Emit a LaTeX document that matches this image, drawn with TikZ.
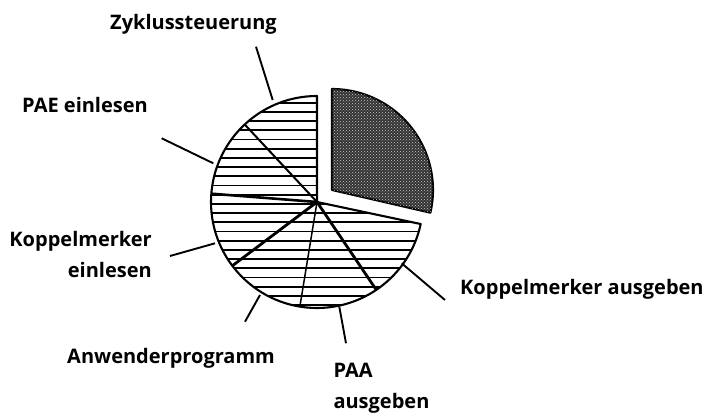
\documentclass[tikz,border=0pt]{standalone}
\usepackage{fontspec}
\setmainfont{Open Sans}
\usetikzlibrary{patterns}
\begin{document}
\begin{tikzpicture}[x=1pt,y=1pt,
  lbl/.style={font=\bfseries\fontsize{20}{31}\selectfont, inner sep=0pt},
  leader/.style={line width=1.9pt},
  rim/.style={line width=2.1pt, line join=round},
  hatch/.style={line width=1.8pt}]
\useasboundingbox (0,0) rectangle (710,414);
\coordinate (C) at (317,212);
\coordinate (E) at (332,224);
% exploded slice
\draw[rim, fill=black!80, postaction={pattern=crosshatch dots, pattern color=white!80!black}]
  (E) -- ++(90:101pt) arc[start angle=90,end angle=-13,radius=101pt] -- cycle;
% hatching of main pie
\begin{scope}
\clip (C) -- ++(90:106pt) arc[start angle=90,end angle=348,radius=106pt] -- cycle;
\foreach \k in {0,...,24} \draw[hatch] (200,{311.3-9.2*\k}) -- (440,{311.3-9.2*\k});
\end{scope}
% slice borders
\foreach \a/\w in {133/2.0,175.5/2.6,217/2.8,260.7/1.5,304/2.8}
  \draw[line width=\w pt] (C) -- ++(\a:106pt);
\draw[rim] (C) -- ++(90:106pt) arc[start angle=90,end angle=348,radius=106pt] -- cycle;
% labels
\node[lbl, anchor=base] (zyk) at (193.5,384.7) {Zyklussteuerung};
\node[lbl, anchor=base west] (pae) at (22,301.5) {PAE einlesen};
\node[lbl, anchor=base east] (ke1) at (152,167.3) {Koppelmerker};
\node[lbl, anchor=base east] (ke2) at (152,136) {einlesen};
\node[lbl, anchor=base west] (anw) at (67,50.7) {Anwenderprogramm};
\node[lbl, anchor=base west] (paa1) at (333.3,36.7) {PAA};
\node[lbl, anchor=base west] (paa2) at (333.3,5.7) {ausgeben};
\node[lbl, anchor=base west] (ka) at (460,119) {Koppelmerker ausgeben};
% leader lines
\coordinate (zyk-a) at (256,367.3);   \coordinate (zyk-b) at (272.7,314);
\coordinate (pae-a) at (161.7,275.7); \coordinate (pae-b) at (213.3,250.7);
\coordinate (ke-a) at (170,158);      \coordinate (ke-b) at (215,170.7);
\coordinate (anw-a) at (245,92.3);    \coordinate (anw-b) at (260,119);
\coordinate (paa-a) at (346,70.7);    \coordinate (paa-b) at (339.3,107.3);
\coordinate (ka-a) at (445,114);      \coordinate (ka-b) at (401.7,150.7);
\foreach \n in {zyk,pae,ke,anw,paa,ka}
  \draw[leader] (\n-a) -- (\n-b);
\end{tikzpicture}
\end{document}
